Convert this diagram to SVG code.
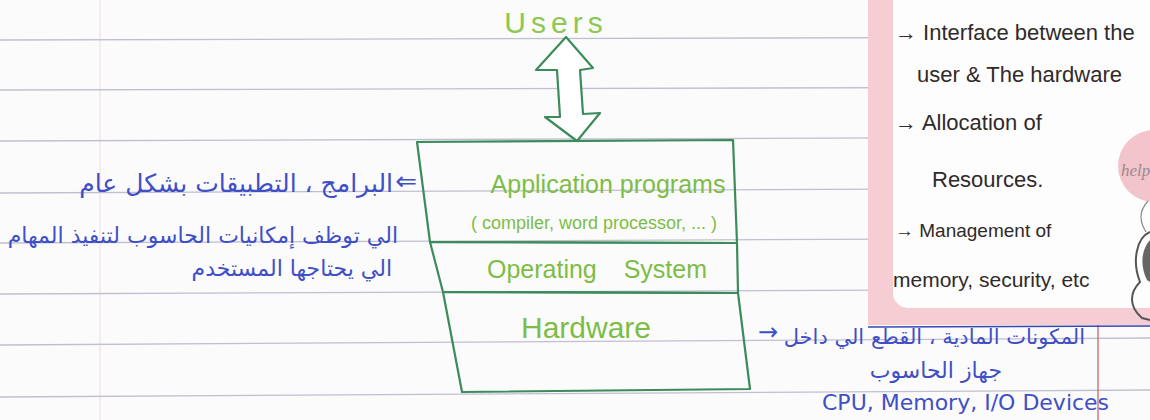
<svg xmlns="http://www.w3.org/2000/svg" width="1150" height="420" viewBox="0 0 1150 420">
  <defs>
    <style>
      .rule { stroke: #c2bed0; stroke-width: 1.3; fill: none; }
      .layer { fill: none; stroke: #3b8b5b; stroke-width: 2.2; stroke-linejoin: round; }
      .lbl { font-family: "Liberation Sans", "DejaVu Sans", sans-serif; fill: #7dbd45; }
      .ar { font-family: "DejaVu Sans", "Noto Sans", sans-serif; fill: #3f4fc6; }
      .note { font-family: "Liberation Sans", "DejaVu Sans", sans-serif; fill: #2f2a2a; }
      .link { fill: #ffffff; stroke: #3b8b5b; stroke-width: 2.2; stroke-linejoin: round; }
    </style>
    <clipPath id="below-card">
      <rect x="0" y="324" width="1150" height="96"/>
    </clipPath>
  </defs>

  <!-- paper -->
  <rect x="0" y="0" width="1150" height="420" fill="#fbfbfc"/>
  <line x1="100" y1="0" x2="100" y2="420" stroke="#f3e2e2" stroke-width="1.2"/>
  <g id="rules">
    <line class="rule" x1="0" y1="40" x2="1150" y2="37"/>
    <line class="rule" x1="0" y1="90" x2="1150" y2="87"/>
    <line class="rule" x1="0" y1="141" x2="1150" y2="137"/>
    <line class="rule" x1="0" y1="193" x2="1150" y2="188"/>
    <line class="rule" x1="0" y1="243" x2="1150" y2="238"/>
    <line class="rule" x1="0" y1="294" x2="1150" y2="289"/>
    <line class="rule" x1="0" y1="345" x2="1150" y2="338"/>
    <line class="rule" x1="0" y1="397" x2="1150" y2="390"/>
  </g>
  <line x1="1098" y1="320" x2="1098" y2="420" stroke="#c85a5a" stroke-width="1.2"/>

  <!-- users -->
  <g id="users">
    <text class="lbl" x="556" y="33" font-size="30" text-anchor="middle" letter-spacing="5" style="fill:#8cc852">Users</text>
  </g>

  <!-- connector between users and the layered stack -->
  <g id="connectors">
    <polygon class="link" points="566,37 593,68 580,70 583,114 600,113 577,141 545,117 560,117 557,70 536,70"/>
  </g>

  <!-- layered stack -->
  <g id="application-programs">
    <polygon class="layer" points="417,142 733,140 737,243 430,242"/>
    <text class="lbl" x="608" y="193" font-size="25" text-anchor="middle">Application programs</text>
    <text class="lbl" x="594" y="229" font-size="18" text-anchor="middle">( compiler, word processor, ... )</text>
  </g>
  <g id="operating-system">
    <polygon class="layer" points="430,242 737,243 738,293 443,292"/>
    <text class="lbl" x="597" y="278" font-size="25" text-anchor="middle" word-spacing="20">Operating System</text>
  </g>
  <g id="hardware">
    <polygon class="layer" points="443,292 738,293 750,389 462,392"/>
    <text class="lbl" x="586" y="338" font-size="30" text-anchor="middle">Hardware</text>
  </g>

  <!-- note on application programs -->
  <g id="note-applications">
    <text class="ar" x="417" y="190" font-size="26" text-anchor="end">⇐</text>
    <text class="ar" x="393" y="192" font-size="25" text-anchor="end">البرامج ، التطبيقات بشكل عام</text>
    <text class="ar" x="398" y="243" font-size="22" text-anchor="end">الي توظف إمكانيات الحاسوب لتنفيذ المهام</text>
    <text class="ar" x="392" y="276" font-size="22" text-anchor="end">الي يحتاجها المستخدم</text>
  </g>

  <!-- note on hardware -->
  <g id="note-hardware">
    <text class="ar" x="758" y="340" font-size="24">→</text>
    <text class="ar" x="1085" y="344" font-size="21" text-anchor="end" clip-path="url(#below-card)">المكونات المادية ، القطع الي داخل</text>
    <text class="ar" x="1002" y="378" font-size="22" text-anchor="end">جهاز الحاسوب</text>
    <text class="ar" x="822" y="410" font-size="22">CPU, Memory, I/O Devices</text>
  </g>

  <!-- sticky card: role of the operating system -->
  <g id="os-roles">
    <rect x="868" y="-10" width="300" height="335" fill="#f5cdd3"/>
    <rect x="893" y="-20" width="280" height="328" rx="15" fill="#fefdfd"/>
    <line x1="868" y1="327" x2="1150" y2="326" stroke="#3546b8" stroke-width="1.6"/>
    <text class="note" x="895" y="40" font-size="22">→ Interface between the</text>
    <text class="note" x="917" y="82" font-size="22">user &amp; The hardware</text>
    <text class="note" x="895" y="130" font-size="22">→ Allocation of</text>
    <text class="note" x="932" y="187" font-size="22">Resources.</text>
    <text class="note" x="895" y="237" font-size="19">→ Management of</text>
    <text class="note" x="893" y="287" font-size="21">memory, security, etc</text>
    <!-- balloon sticker -->
    <circle cx="1154" cy="166" r="36" fill="#f2c4cc"/>
    <text x="1121" y="176" font-family="Liberation Serif, serif" font-style="italic" font-size="17" fill="#9a8a8c">help</text>
    <path d="M1148,201 C1138,212 1140,222 1146,232" fill="none" stroke="#8a8a8a" stroke-width="1.2"/>
    <path d="M1150,232 C1136,238 1132,262 1140,282 C1130,292 1128,306 1142,318 L1150,320" fill="none" stroke="#555" stroke-width="2"/>
    <path d="M1150,240 C1141,250 1140,266 1147,280 L1150,282 Z" fill="#666"/>
  </g>
</svg>
